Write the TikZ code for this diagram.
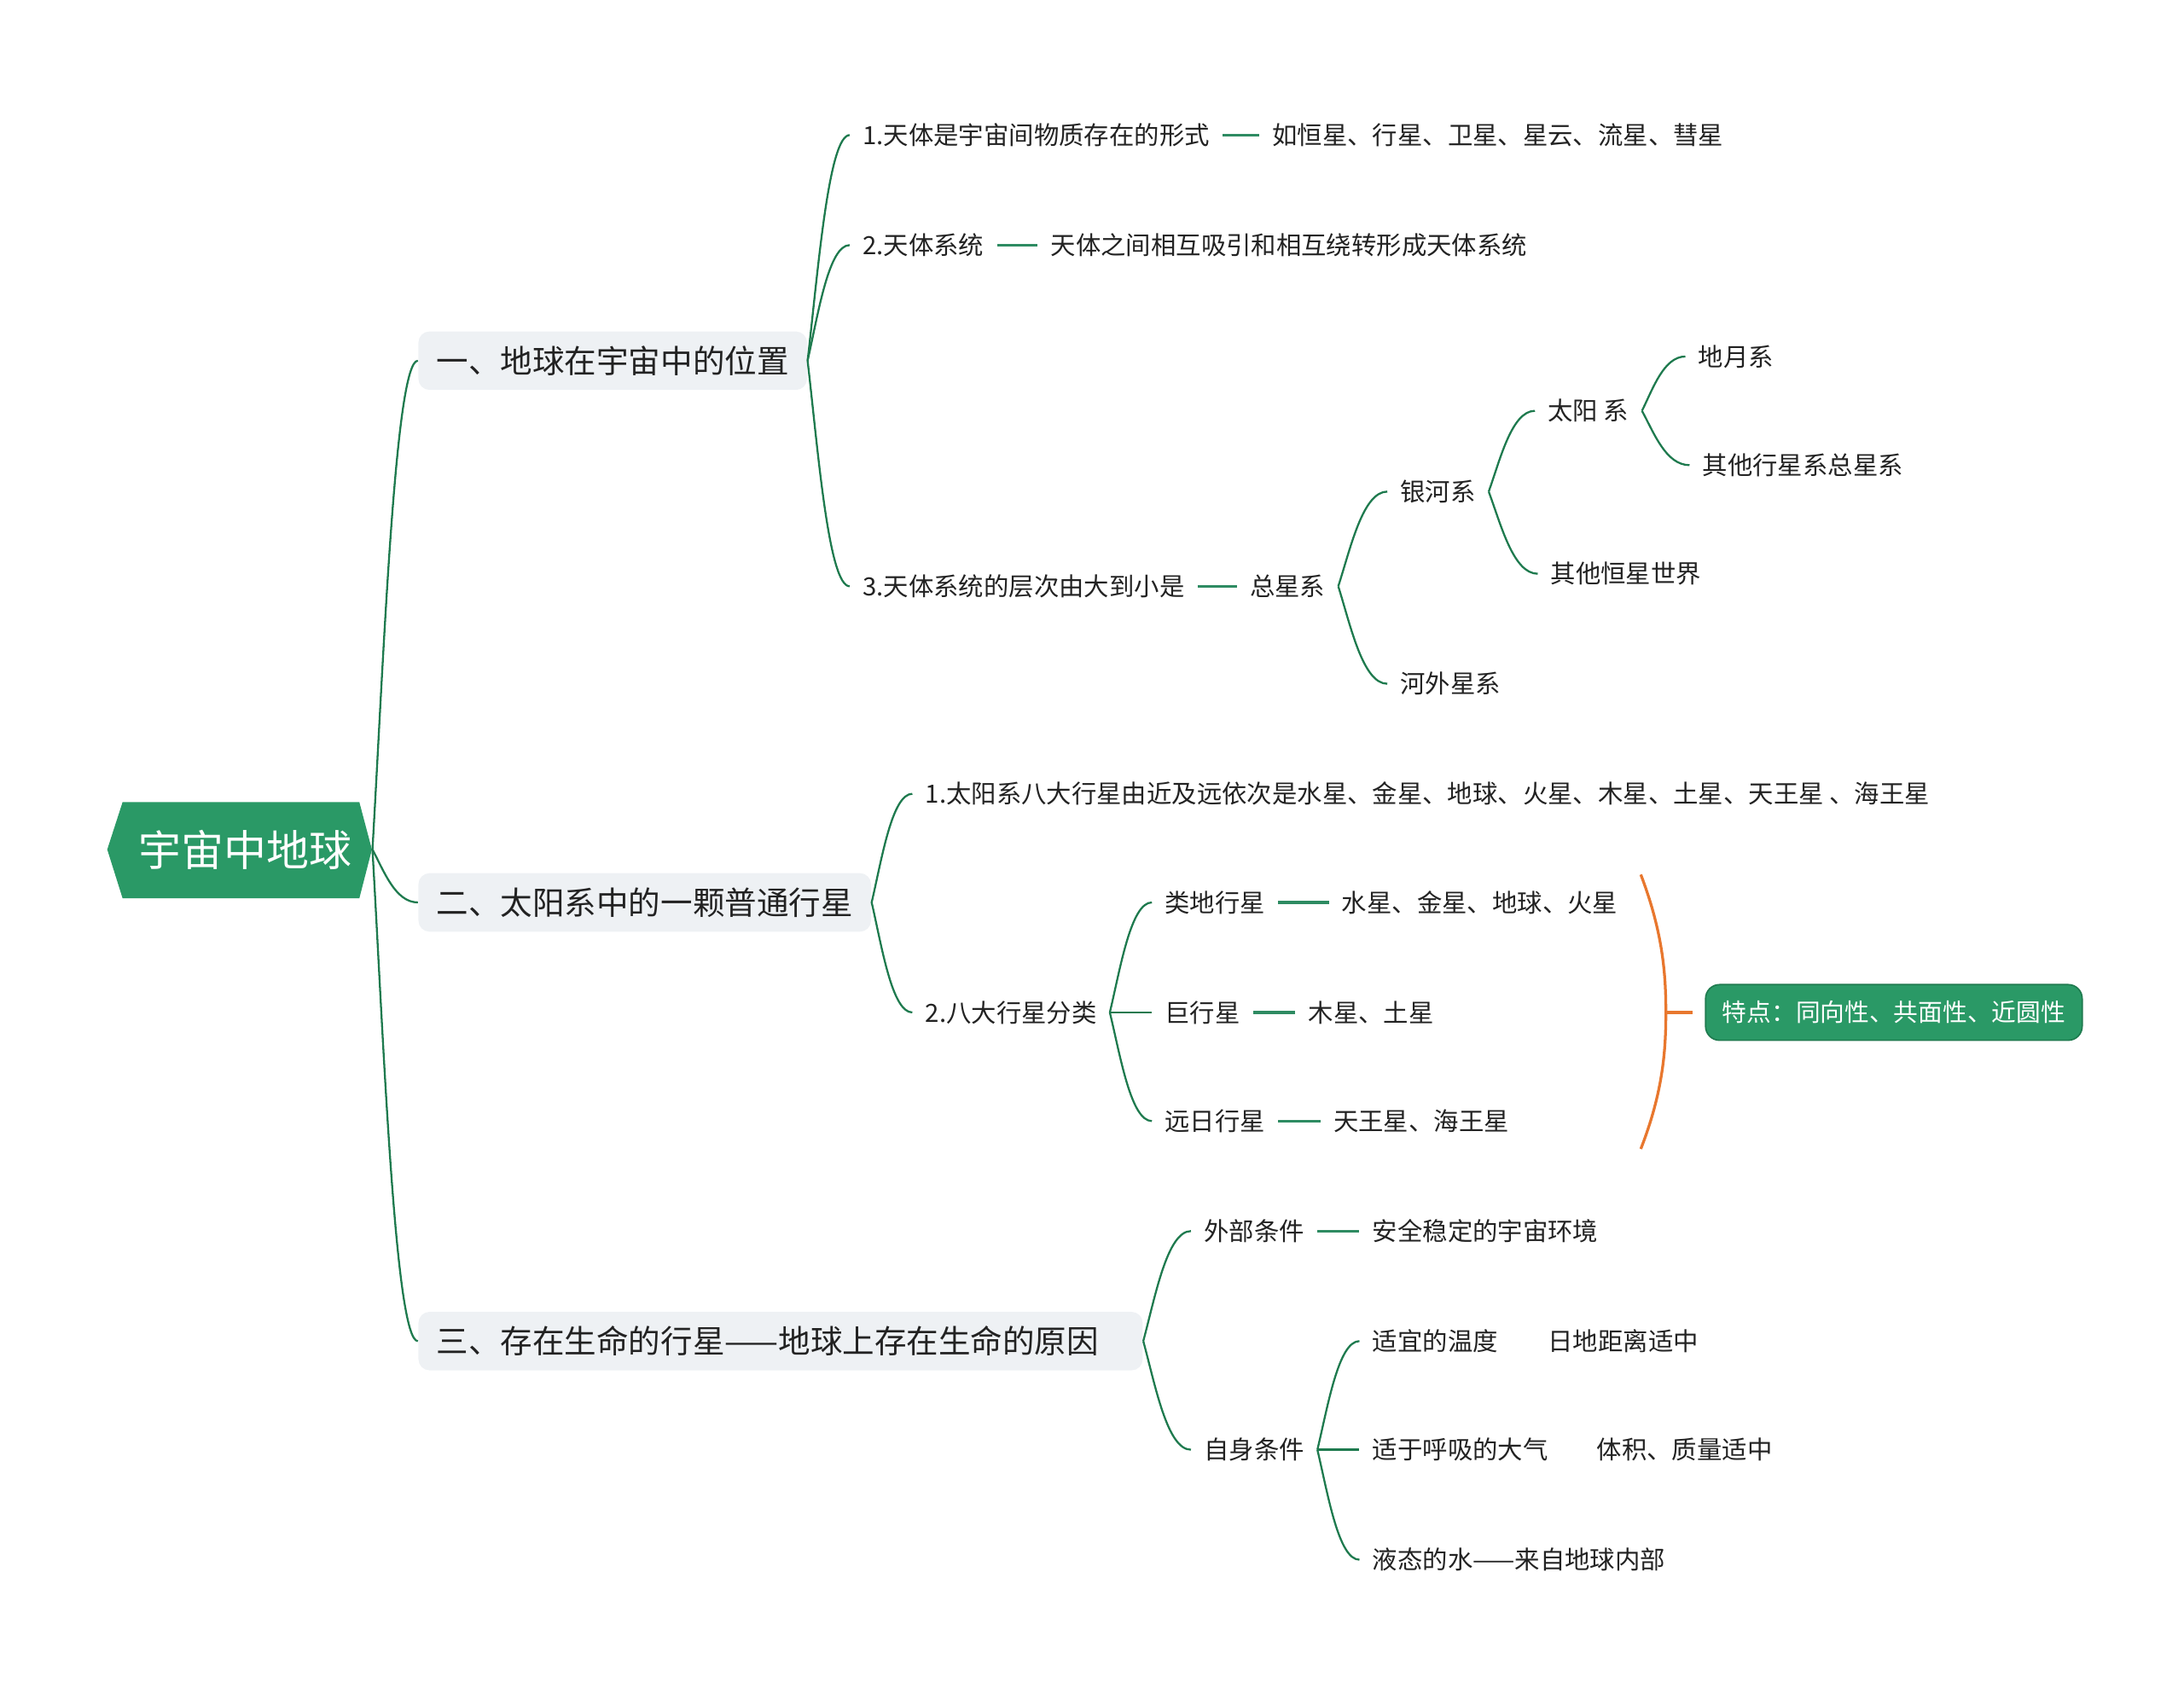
\documentclass[tikz,border=0pt]{standalone}
\usepackage{fontspec}
\setmainfont{Noto Sans CJK SC}
\usepackage{tikz}
\usetikzlibrary{calc}

\definecolor{rootgreen}{HTML}{2A9966}
\definecolor{linkgreen}{HTML}{1E7A4E}
\definecolor{pairgreen}{HTML}{2E8B62}
\definecolor{topicgray}{HTML}{EEF1F4}
\definecolor{braceorange}{HTML}{E8772E}
\definecolor{inkgray}{HTML}{222222}

\begin{document}
\begin{tikzpicture}[x=0.5pt, y=-0.5pt,
    topic/.style={anchor=west, fill=topicgray, rounded corners=4pt, inner xsep=6.5pt,
        minimum height=21pt, text=inkgray, font=\fontsize{11.5}{13}\selectfont},
    item/.style={anchor=west, inner xsep=4.5pt, inner ysep=2pt, text=inkgray,
        font=\fontsize{9}{11}\selectfont},
    feature/.style={anchor=west, fill=rootgreen, draw=linkgreen, line width=0.5pt,
        rounded corners=5pt, inner xsep=6pt, minimum height=20pt, text=white,
        font=\fontsize{8.8}{11}\selectfont},
    link/.style={draw=linkgreen, line width=0.7pt},
    pair/.style={draw=pairgreen, line width=1pt},
    brace/.style={draw=braceorange, line width=1pt}]
    \useasboundingbox (0,0) rectangle (1568,1216);

    % Central Topic
    \fill[rootgreen] (77,610) -- (88,576) -- (258,576) -- (267,610) -- (258,645) -- (88,645) -- cycle;
    \node[text=white, font=\fontsize{15.3}{17}\selectfont, minimum width=91pt, inner sep=0pt] (root) at (176,610) {宇宙中地球};

    % Main Branches
    \node[topic] (ta) at (300,259) {一、地球在宇宙中的位置};
    \node[topic] (tb) at (300,648) {二、太阳系中的一颗普通行星};
    \node[topic, text width=247pt, align=left] (tc) at (300,963) {三、存在生命的行星——地球上存在生命的原因};

    % Branch One
    \node[item] (a1) at (610,97) {1.天体是宇宙间物质存在的形式};
    \node[item] (a1x) at (904,97) {如恒星、行星、卫星、星云、流星、彗星};
    \node[item] (a2) at (610,176) {2.天体系统};
    \node[item] (a2x) at (745,176) {天体之间相互吸引和相互绕转形成天体系统};
    \node[item] (a3) at (610,421) {3.天体系统的层次由大到小是};
    \node[item] (a3x) at (888,421) {总星系};
    \node[item] (galaxy) at (996,353) {银河系};
    \node[item] (extragal) at (996,491) {河外星系};
    \node[item] (solar) at (1102,295) {太阳 系};
    \node[item] (otherstar) at (1104,412) {其他恒星世界};
    \node[item] (earthmoon) at (1210,256) {地月系};
    \node[item] (otherplanet) at (1213,334) {其他行星系总星系};

    % Branch Two
    \node[item] (b1) at (655,570) {1.太阳系八大行星由近及远依次是水星、金星、地球、火星、木星、土星、天王星 、海王星};
    \node[item] (b2) at (655,727) {2.八大行星分类};
    \node[item] (terr) at (827,648) {类地行星};
    \node[item] (terrx) at (954,648) {水星、金星、地球、火星};
    \node[item] (giant) at (827,727) {巨行星};
    \node[item] (giantx) at (930,727) {木星、土星};
    \node[item] (far) at (827,805) {远日行星};
    \node[item] (farx) at (948,805) {天王星、海王星};
    \node[feature] (feat) at (1224,727) {特点：同向性、共面性、近圆性};

    % Branch Three
    \node[item] (c1) at (855,884) {外部条件};
    \node[item] (c1x) at (976,884) {安全稳定的宇宙环境};
    \node[item] (c2) at (855,1041) {自身条件};
    \node[item] (temp) at (976,963) {适宜的温度};
    \node[item] (tempx) at (1102,963) {日地距离适中};
    \node[item] (air) at (976,1041) {适于呼吸的大气};
    \node[item] (airx) at (1137,1041) {体积、质量适中};
    \node[item] (water) at (976,1120) {液态的水——来自地球内部};

    % Tree Connectors
    \foreach \from/\to in {root/ta, root/tb, root/tc, ta/a1, ta/a2, ta/a3,
        a3x/galaxy, a3x/extragal, galaxy/solar, galaxy/otherstar,
        solar/earthmoon, solar/otherplanet, tb/b1, tb/b2,
        b2/terr, b2/giant, b2/far, tc/c1, tc/c2, c2/temp, c2/air, c2/water} {
        \draw[link] let \p1=(\from.east), \p2=(\to.west) in
            (\p1) .. controls (\x1+0.25*\x2-0.25*\x1, \y1+0.4*\y2-0.4*\y1)
            and (0.5*\x1+0.5*\x2, \y2) .. (\p2);
    }

    % Detail Connectors
    \foreach \from/\to in {a1/a1x, a2/a2x, a3/a3x, terr/terrx, giant/giantx, far/farx, c1/c1x} {
        \draw[pair] (\from.east) -- (\to.west);
    }

    % Summary Brace
    \coordinate (bt) at (1178,628);
    \coordinate (bm) at (1196,727);
    \coordinate (bb) at (1178,825);
    \draw[brace] (bt) .. controls +(16,42) and +(0,-27) .. (bm) .. controls +(0,27) and +(16,-41) .. (bb);
    \draw[brace] (bm) -- ([xshift=-4.5pt]feat.west);
\end{tikzpicture}
\end{document}
